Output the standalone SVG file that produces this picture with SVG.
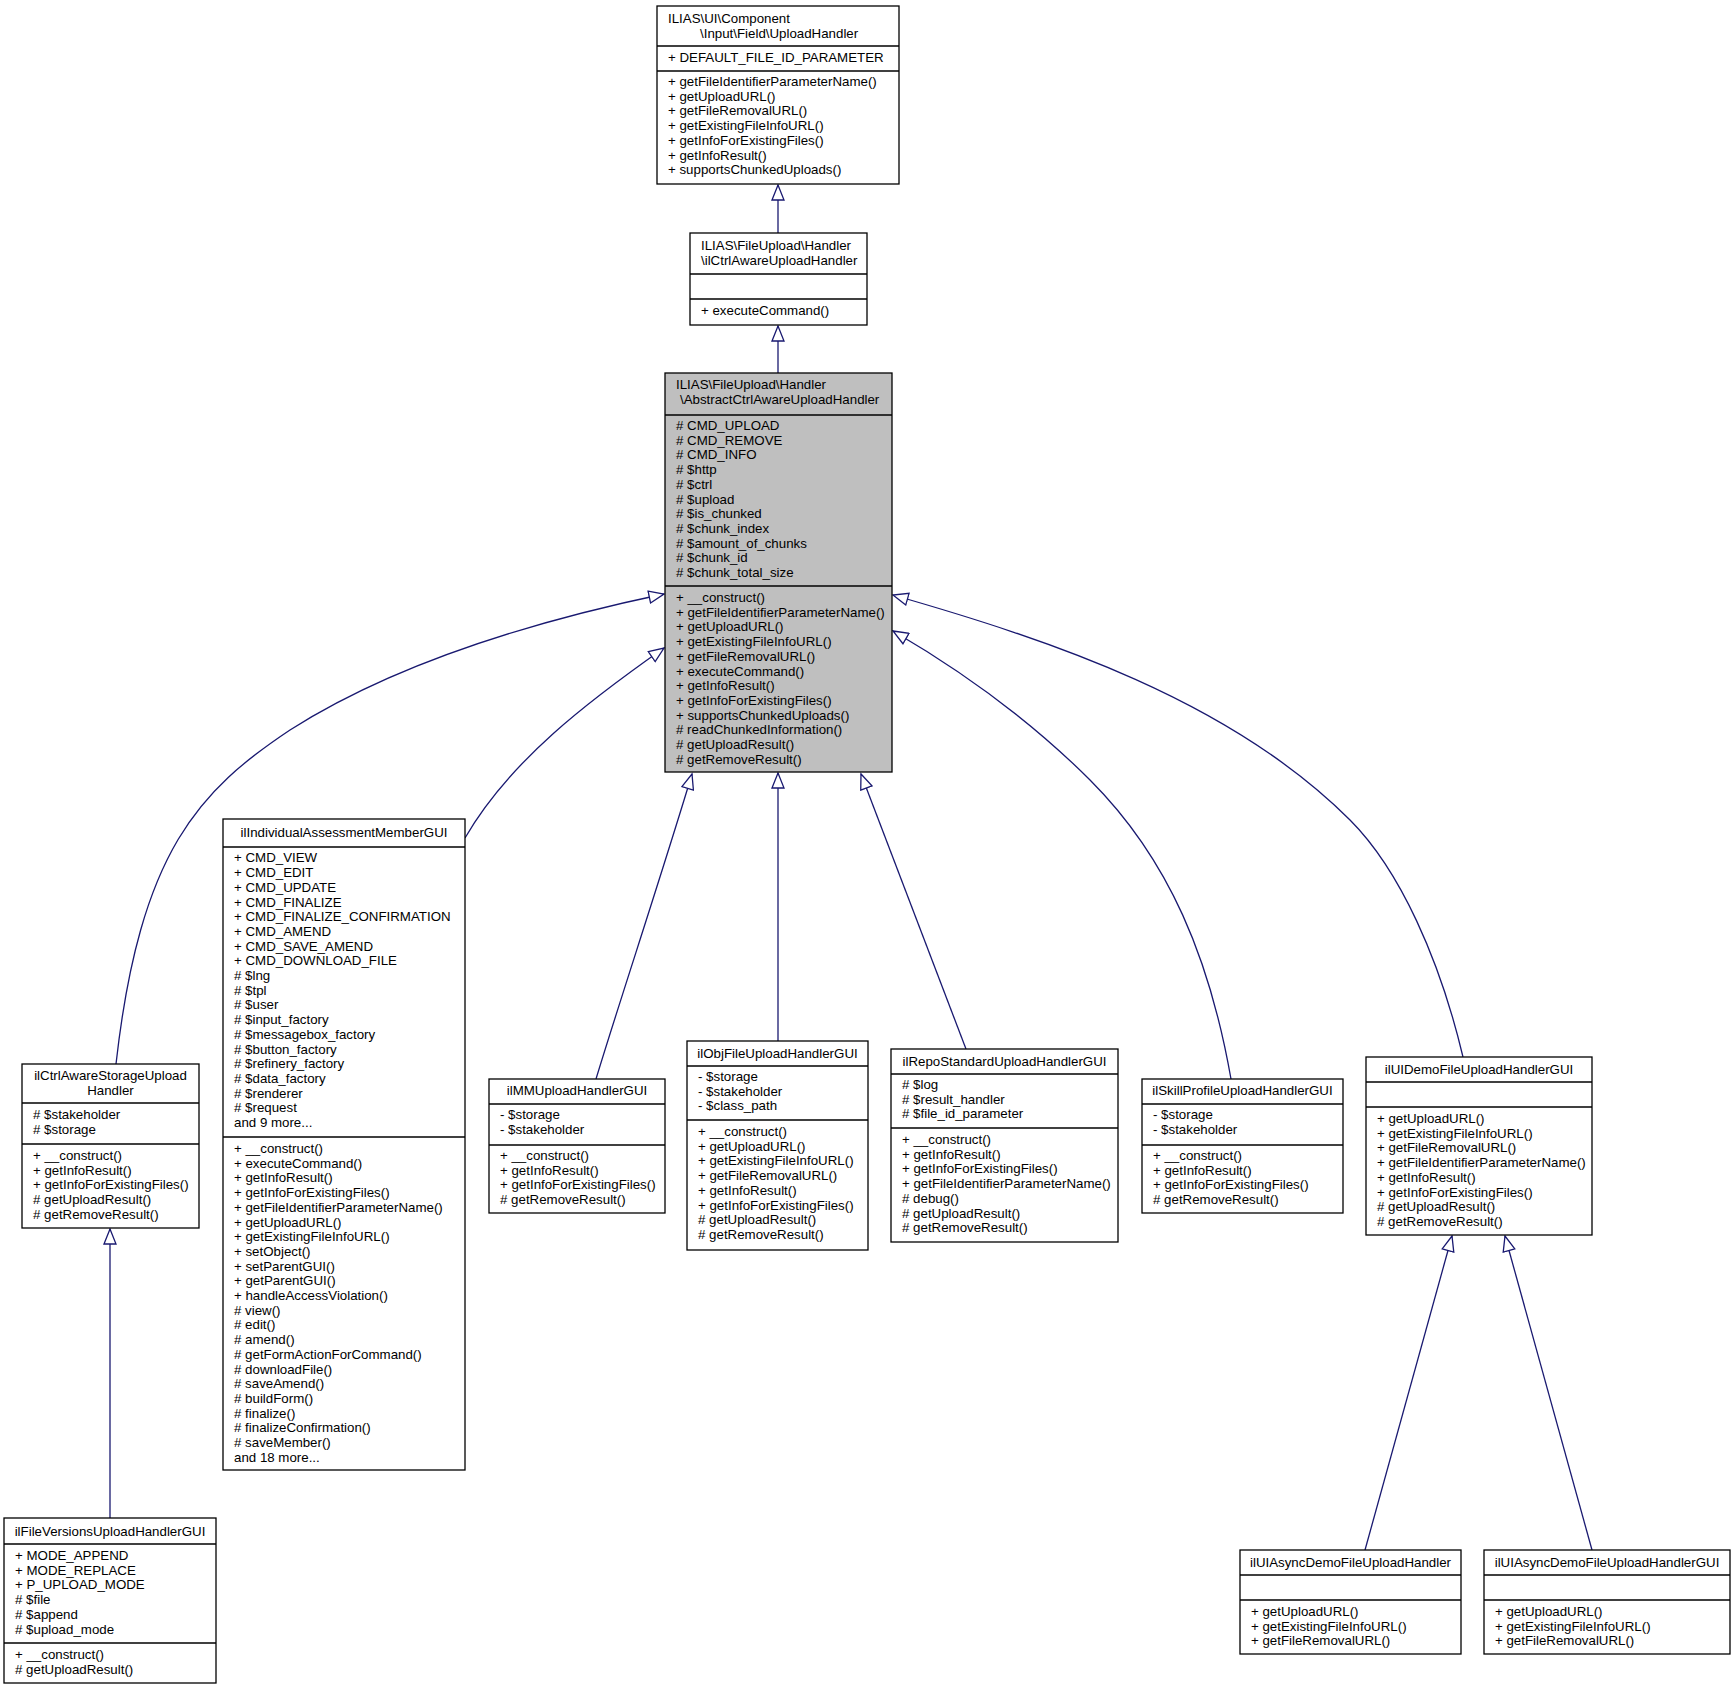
<svg xmlns="http://www.w3.org/2000/svg" width="1736" height="1689" viewBox="0 0 1736 1689">
<style>
text{font-family:"Liberation Sans",Arial,sans-serif;font-size:13.3px;fill:#000}
.c{text-anchor:middle}
rect{fill:#fff;stroke:#000;stroke-width:1.3}
rect.g{fill:#bfbfbf}
line{stroke:#000;stroke-width:1.3}
.e path{fill:none;stroke:#191970;stroke-width:1.3;marker-end:url(#a)}
</style>
<defs>
<marker id="a" markerWidth="18" markerHeight="14" refX="16" refY="7" orient="auto" markerUnits="userSpaceOnUse">
<path d="M1,1 L16,7 L1,13 Z" fill="#fff" stroke="#191970" stroke-width="1.3"/>
</marker>
</defs>
<rect width="1736" height="1689" style="fill:#fff;stroke:none"/>
<g class="e" id="edges">
<path d="M778,233 L778,185"/>
<path d="M778,373 L778,326"/>
<path d="M116,1064 C140,850 200,790 290,730 C400,660 540,620 664,594"/>
<path d="M465,838 C510,760 590,700 664,648"/>
<path d="M596,1079 C620,1000 660,880 692,774"/>
<path d="M778,1041 L778,773"/>
<path d="M966,1049 L861,774"/>
<path d="M1231,1079 C1210,960 1170,860 1090,780 C1030,720 960,670 893,631"/>
<path d="M1463,1057 C1440,960 1400,870 1350,820 C1230,700 1050,640 893,595"/>
<path d="M110,1518 L110,1229"/>
<path d="M1365,1550 L1452,1236"/>
<path d="M1592,1550 L1505,1236"/>
</g>
<g id="n1">
<rect x="657" y="6" width="242" height="178"/>
<text x="668" y="23">ILIAS\UI\Component</text>
<text x="700" y="38">\Input\Field\UploadHandler</text>
<line x1="657" y1="46" x2="899" y2="46"/>
<text x="668" y="62">+ DEFAULT_FILE_ID_PARAMETER</text>
<line x1="657" y1="71" x2="899" y2="71"/>
<text x="668" y="86">+ getFileIdentifierParameterName()</text>
<text x="668" y="100.7">+ getUploadURL()</text>
<text x="668" y="115.4">+ getFileRemovalURL()</text>
<text x="668" y="130.1">+ getExistingFileInfoURL()</text>
<text x="668" y="144.8">+ getInfoForExistingFiles()</text>
<text x="668" y="159.5">+ getInfoResult()</text>
<text x="668" y="174.2">+ supportsChunkedUploads()</text>
</g>
<g id="n2">
<rect x="690" y="233" width="177" height="92"/>
<text x="701" y="250">ILIAS\FileUpload\Handler</text>
<text x="701" y="265">\ilCtrlAwareUploadHandler</text>
<line x1="690" y1="274" x2="867" y2="274"/>
<line x1="690" y1="299" x2="867" y2="299"/>
<text x="701" y="315">+ executeCommand()</text>
</g>
<g id="n3">
<rect class="g" x="665" y="373" width="227" height="399"/>
<text x="676" y="389">ILIAS\FileUpload\Handler</text>
<text x="680" y="404">\AbstractCtrlAwareUploadHandler</text>
<line x1="665" y1="415" x2="892" y2="415"/>
<text x="676" y="430">#  CMD_UPLOAD</text>
<text x="676" y="444.7"># CMD_REMOVE</text>
<text x="676" y="459.4"># CMD_INFO</text>
<text x="676" y="474.1"># $http</text>
<text x="676" y="488.8"># $ctrl</text>
<text x="676" y="503.5"># $upload</text>
<text x="676" y="518.2"># $is_chunked</text>
<text x="676" y="532.9"># $chunk_index</text>
<text x="676" y="547.6"># $amount_of_chunks</text>
<text x="676" y="562.3"># $chunk_id</text>
<text x="676" y="577"># $chunk_total_size</text>
<line x1="665" y1="586" x2="892" y2="586"/>
<text x="676" y="602">+ __construct()</text>
<text x="676" y="616.7">+ getFileIdentifierParameterName()</text>
<text x="676" y="631.4">+ getUploadURL()</text>
<text x="676" y="646.1">+ getExistingFileInfoURL()</text>
<text x="676" y="660.8">+ getFileRemovalURL()</text>
<text x="676" y="675.5">+ executeCommand()</text>
<text x="676" y="690.2">+ getInfoResult()</text>
<text x="676" y="704.9">+ getInfoForExistingFiles()</text>
<text x="676" y="719.6">+ supportsChunkedUploads()</text>
<text x="676" y="734.3"># readChunkedInformation()</text>
<text x="676" y="749"># getUploadResult()</text>
<text x="676" y="763.7"># getRemoveResult()</text>
</g>
<g id="n4">
<rect x="22" y="1064" width="177" height="164"/>
<text class="c" x="110.5" y="1080">ilCtrlAwareStorageUpload</text>
<text class="c" x="110.5" y="1095">Handler</text>
<line x1="22" y1="1103" x2="199" y2="1103"/>
<text x="33" y="1119"># $stakeholder</text>
<text x="33" y="1134"># $storage</text>
<line x1="22" y1="1144" x2="199" y2="1144"/>
<text x="33" y="1160">+ __construct()</text>
<text x="33" y="1174.7">+ getInfoResult()</text>
<text x="33" y="1189.4">+ getInfoForExistingFiles()</text>
<text x="33" y="1204.1"># getUploadResult()</text>
<text x="33" y="1218.8"># getRemoveResult()</text>
</g>
<g id="n5">
<rect x="4" y="1518" width="212" height="165"/>
<text class="c" x="110" y="1536">ilFileVersionsUploadHandlerGUI</text>
<line x1="4" y1="1544" x2="216" y2="1544"/>
<text x="15" y="1560">+ MODE_APPEND</text>
<text x="15" y="1574.7">+ MODE_REPLACE</text>
<text x="15" y="1589.4">+ P_UPLOAD_MODE</text>
<text x="15" y="1604.1"># $file</text>
<text x="15" y="1618.8"># $append</text>
<text x="15" y="1633.5"># $upload_mode</text>
<line x1="4" y1="1643" x2="216" y2="1643"/>
<text x="15" y="1659">+ __construct()</text>
<text x="15" y="1673.7"># getUploadResult()</text>
</g>
<g id="n6">
<rect x="223" y="819" width="242" height="651"/>
<text class="c" x="344" y="837">ilIndividualAssessmentMemberGUI</text>
<line x1="223" y1="847" x2="465" y2="847"/>
<text x="234" y="862.4">+ CMD_VIEW</text>
<text x="234" y="877.1">+ CMD_EDIT</text>
<text x="234" y="891.8">+ CMD_UPDATE</text>
<text x="234" y="906.5">+ CMD_FINALIZE</text>
<text x="234" y="921.2">+ CMD_FINALIZE_CONFIRMATION</text>
<text x="234" y="935.9">+ CMD_AMEND</text>
<text x="234" y="950.6">+ CMD_SAVE_AMEND</text>
<text x="234" y="965.3">+ CMD_DOWNLOAD_FILE</text>
<text x="234" y="980"># $lng</text>
<text x="234" y="994.7"># $tpl</text>
<text x="234" y="1009.4"># $user</text>
<text x="234" y="1024.1"># $input_factory</text>
<text x="234" y="1038.8"># $messagebox_factory</text>
<text x="234" y="1053.5"># $button_factory</text>
<text x="234" y="1068.2"># $refinery_factory</text>
<text x="234" y="1082.9"># $data_factory</text>
<text x="234" y="1097.6"># $renderer</text>
<text x="234" y="1112.3"># $request</text>
<text x="234" y="1127">and 9 more...</text>
<line x1="223" y1="1137" x2="465" y2="1137"/>
<text x="234" y="1153">+ __construct()</text>
<text x="234" y="1167.7">+ executeCommand()</text>
<text x="234" y="1182.4">+ getInfoResult()</text>
<text x="234" y="1197.1">+ getInfoForExistingFiles()</text>
<text x="234" y="1211.8">+ getFileIdentifierParameterName()</text>
<text x="234" y="1226.5">+ getUploadURL()</text>
<text x="234" y="1241.2">+ getExistingFileInfoURL()</text>
<text x="234" y="1255.9">+ setObject()</text>
<text x="234" y="1270.6">+ setParentGUI()</text>
<text x="234" y="1285.3">+ getParentGUI()</text>
<text x="234" y="1300">+ handleAccessViolation()</text>
<text x="234" y="1314.7"># view()</text>
<text x="234" y="1329.4"># edit()</text>
<text x="234" y="1344.1"># amend()</text>
<text x="234" y="1358.8"># getFormActionForCommand()</text>
<text x="234" y="1373.5"># downloadFile()</text>
<text x="234" y="1388.2"># saveAmend()</text>
<text x="234" y="1402.9"># buildForm()</text>
<text x="234" y="1417.6"># finalize()</text>
<text x="234" y="1432.3"># finalizeConfirmation()</text>
<text x="234" y="1447"># saveMember()</text>
<text x="234" y="1461.7">and 18 more...</text>
</g>
<g id="n7">
<rect x="489" y="1079" width="176" height="134"/>
<text class="c" x="577" y="1095">ilMMUploadHandlerGUI</text>
<line x1="489" y1="1104" x2="665" y2="1104"/>
<text x="500" y="1119">- $storage</text>
<text x="500" y="1134">- $stakeholder</text>
<line x1="489" y1="1145" x2="665" y2="1145"/>
<text x="500" y="1160">+ __construct()</text>
<text x="500" y="1174.7">+ getInfoResult()</text>
<text x="500" y="1189.4">+ getInfoForExistingFiles()</text>
<text x="500" y="1204.1"># getRemoveResult()</text>
</g>
<g id="n8">
<rect x="687" y="1041" width="181" height="209"/>
<text class="c" x="777.5" y="1058">ilObjFileUploadHandlerGUI</text>
<line x1="687" y1="1066" x2="868" y2="1066"/>
<text x="698" y="1081">- $storage</text>
<text x="698" y="1095.7">- $stakeholder</text>
<text x="698" y="1110.4">- $class_path</text>
<line x1="687" y1="1120" x2="868" y2="1120"/>
<text x="698" y="1136">+ __construct()</text>
<text x="698" y="1150.7">+ getUploadURL()</text>
<text x="698" y="1165.4">+ getExistingFileInfoURL()</text>
<text x="698" y="1180.1">+ getFileRemovalURL()</text>
<text x="698" y="1194.8">+ getInfoResult()</text>
<text x="698" y="1209.5">+ getInfoForExistingFiles()</text>
<text x="698" y="1224.2"># getUploadResult()</text>
<text x="698" y="1238.9"># getRemoveResult()</text>
</g>
<g id="n9">
<rect x="891" y="1049" width="227" height="193"/>
<text class="c" x="1004.5" y="1066">ilRepoStandardUploadHandlerGUI</text>
<line x1="891" y1="1074" x2="1118" y2="1074"/>
<text x="902" y="1089"># $log</text>
<text x="902" y="1103.7"># $result_handler</text>
<text x="902" y="1118.4"># $file_id_parameter</text>
<line x1="891" y1="1128" x2="1118" y2="1128"/>
<text x="902" y="1144">+ __construct()</text>
<text x="902" y="1158.7">+ getInfoResult()</text>
<text x="902" y="1173.4">+ getInfoForExistingFiles()</text>
<text x="902" y="1188.1">+ getFileIdentifierParameterName()</text>
<text x="902" y="1202.8"># debug()</text>
<text x="902" y="1217.5"># getUploadResult()</text>
<text x="902" y="1232.2"># getRemoveResult()</text>
</g>
<g id="n10">
<rect x="1142" y="1079" width="201" height="134"/>
<text class="c" x="1242.5" y="1095">ilSkillProfileUploadHandlerGUI</text>
<line x1="1142" y1="1104" x2="1343" y2="1104"/>
<text x="1153" y="1119">- $storage</text>
<text x="1153" y="1134">- $stakeholder</text>
<line x1="1142" y1="1145" x2="1343" y2="1145"/>
<text x="1153" y="1160">+ __construct()</text>
<text x="1153" y="1174.7">+ getInfoResult()</text>
<text x="1153" y="1189.4">+ getInfoForExistingFiles()</text>
<text x="1153" y="1204.1"># getRemoveResult()</text>
</g>
<g id="n11">
<rect x="1366" y="1057" width="226" height="178"/>
<text class="c" x="1479" y="1074">ilUIDemoFileUploadHandlerGUI</text>
<line x1="1366" y1="1082" x2="1592" y2="1082"/>
<line x1="1366" y1="1107" x2="1592" y2="1107"/>
<text x="1377" y="1123">+ getUploadURL()</text>
<text x="1377" y="1137.7">+ getExistingFileInfoURL()</text>
<text x="1377" y="1152.4">+ getFileRemovalURL()</text>
<text x="1377" y="1167.1">+ getFileIdentifierParameterName()</text>
<text x="1377" y="1181.8">+ getInfoResult()</text>
<text x="1377" y="1196.5">+ getInfoForExistingFiles()</text>
<text x="1377" y="1211.2"># getUploadResult()</text>
<text x="1377" y="1225.9"># getRemoveResult()</text>
</g>
<g id="n12">
<rect x="1240" y="1550" width="221" height="104"/>
<text class="c" x="1350.5" y="1567">ilUIAsyncDemoFileUploadHandler</text>
<line x1="1240" y1="1575" x2="1461" y2="1575"/>
<line x1="1240" y1="1600" x2="1461" y2="1600"/>
<text x="1251" y="1616">+ getUploadURL()</text>
<text x="1251" y="1630.7">+ getExistingFileInfoURL()</text>
<text x="1251" y="1645.4">+ getFileRemovalURL()</text>
</g>
<g id="n13">
<rect x="1484" y="1550" width="246" height="104"/>
<text class="c" x="1607" y="1567">ilUIAsyncDemoFileUploadHandlerGUI</text>
<line x1="1484" y1="1575" x2="1730" y2="1575"/>
<line x1="1484" y1="1600" x2="1730" y2="1600"/>
<text x="1495" y="1616">+ getUploadURL()</text>
<text x="1495" y="1630.7">+ getExistingFileInfoURL()</text>
<text x="1495" y="1645.4">+ getFileRemovalURL()</text>
</g>
</svg>
